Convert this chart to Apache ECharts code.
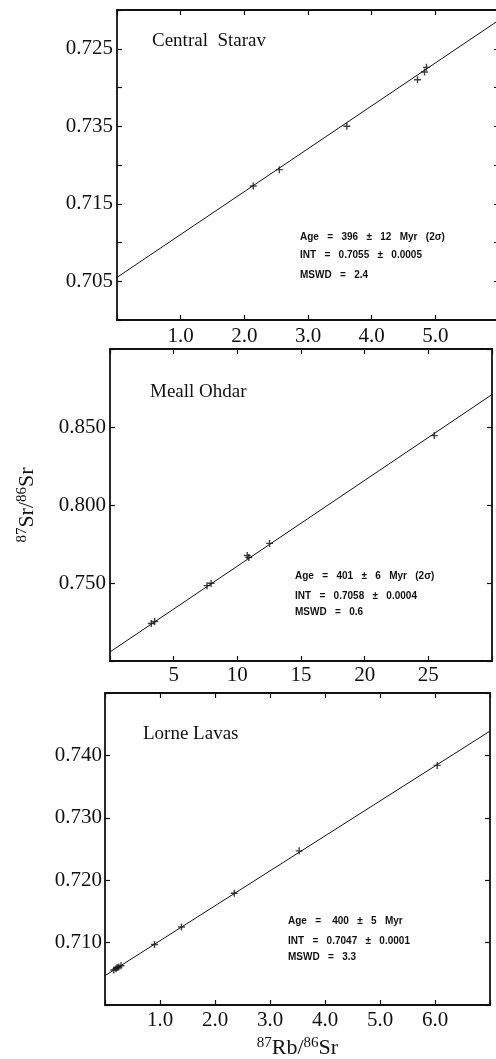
<!DOCTYPE html>
<html>
<head>
<meta charset="utf-8">
<script src="https://cdn.jsdelivr.net/npm/echarts@6/dist/echarts.min.js"></script>
<style>
  html, body { margin: 0; padding: 0; background: #fff; }
  #chart { width: 496px; height: 1059px; }
</style>
</head>
<body>
<div id="chart"></div>
<script>
// Rb-Sr isochrons: 87Sr/86Sr against 87Rb/86Sr for three suites

// Central Starav
const staravPoints = [[2.14, 0.7173], [2.55, 0.7194], [3.61, 0.7250], [4.72, 0.7310], [4.83, 0.7320], [4.86, 0.7326]];
const staravFit = [[0, 0.7055], [6, 0.7387]];
const staravXTicks = [1, 2, 3, 4, 5];
const staravXText = ['1.0', '2.0', '3.0', '4.0', '5.0'];
const staravYTicks = [0.705, 0.715, 0.725, 0.735];
const staravYText = ['0.705', '0.715', '0.735', '0.725'];
const staravNotes = ['Age   =   396   ±   12   Myr   (2σ)', 'INT   =   0.7055   ±   0.0005', 'MSWD   =   2.4'];

// Meall Ohdar
const ohdarPoints = [[3.24, 0.7240], [3.51, 0.7253], [7.62, 0.7483], [7.94, 0.7498], [10.78, 0.7676], [10.90, 0.7663], [12.53, 0.7754], [25.47, 0.8445]];
const ohdarFit = [[0, 0.7058], [30, 0.8708]];
const ohdarXTicks = [5, 10, 15, 20, 25];
const ohdarXText = ['5', '10', '15', '20', '25'];
const ohdarYTicks = [0.75, 0.80, 0.85];
const ohdarYText = ['0.750', '0.800', '0.850'];
const ohdarNotes = ['Age   =   401   ±   6   Myr   (2σ)', 'INT   =   0.7058   ±   0.0004', 'MSWD   =   0.6'];

// Lorne Lavas
const lornePoints = [[0.16, 0.7056], [0.20, 0.7058], [0.22, 0.7060], [0.25, 0.7061], [0.29, 0.7063], [0.90, 0.7097], [1.39, 0.7125], [2.35, 0.7179], [3.53, 0.7247], [6.04, 0.7384]];
const lorneFit = [[0, 0.7047], [7, 0.7439]];
const lorneXTicks = [1, 2, 3, 4, 5, 6];
const lorneXText = ['1.0', '2.0', '3.0', '4.0', '5.0', '6.0'];
const lorneYTicks = [0.71, 0.72, 0.73, 0.74];
const lorneYText = ['0.710', '0.720', '0.730', '0.740'];
const lorneNotes = ['Age   =    400   ±   5   Myr', 'INT   =   0.7047   ±   0.0001', 'MSWD   =   3.3'];

const INK = '#111';
const SERIF = '"Liberation Serif", "Times New Roman", serif';
const CROSS = 'path://M4,0H6V4H10V6H6V10H4V6H0V4H4Z';

function labelFor(ticks, texts) {
  return function (v) {
    for (let i = 0; i < ticks.length; i++) {
      if (Math.abs(v - ticks[i]) < 1e-9) return texts[i];
    }
    return '';
  };
}

const lineStyle = { color: INK, width: 1.8 };
const tickStyle = { color: INK, width: 1.2 };

function xPair(gi, min, max, interval, ticks, texts, margin) {
  return [
    {
      gridIndex: gi, type: 'value', position: 'bottom', min, max, interval,
      axisLine: { show: true, onZero: false, lineStyle },
      axisTick: { show: true, inside: true, length: 5, lineStyle: tickStyle },
      axisLabel: { formatter: labelFor(ticks, texts), margin, fontFamily: SERIF, fontSize: 21, color: INK },
      splitLine: { show: false }
    },
    {
      gridIndex: gi, type: 'value', position: 'top', min, max, interval,
      axisLine: { show: true, onZero: false, lineStyle },
      axisTick: { show: true, inside: true, length: 5, lineStyle: tickStyle },
      axisLabel: { show: false },
      splitLine: { show: false }
    }
  ];
}

function yPair(gi, min, max, interval, ticks, texts, margin) {
  return [
    {
      gridIndex: gi, type: 'value', position: 'left', min, max, interval,
      axisLine: { show: true, onZero: false, lineStyle },
      axisTick: { show: true, inside: true, length: 5, lineStyle: tickStyle },
      axisLabel: { formatter: labelFor(ticks, texts), margin, fontFamily: SERIF, fontSize: 21, color: INK },
      splitLine: { show: false }
    },
    {
      gridIndex: gi, type: 'value', position: 'right', min, max, interval,
      axisLine: { show: true, onZero: false, lineStyle },
      axisTick: { show: true, inside: true, length: 5, lineStyle: tickStyle },
      axisLabel: { show: false },
      splitLine: { show: false }
    }
  ];
}

const xAxes = [].concat(
  xPair(0, 0, 6, 1, staravXTicks, staravXText, 6),
  xPair(1, 0, 30, 5, ohdarXTicks, ohdarXText, 4),
  xPair(2, 0, 7, 1, lorneXTicks, lorneXText, 5)
);
const yAxes = [].concat(
  yPair(0, 0.700, 0.740, 0.005, staravYTicks, staravYText, 4),
  yPair(1, 0.70, 0.90, 0.05, ohdarYTicks, ohdarYText, 4),
  yPair(2, 0.70, 0.75, 0.01, lorneYTicks, lorneYText, 3)
);

const ratioRich = {
  s: { fontFamily: SERIF, fontSize: 15, color: INK, verticalAlign: 'top', lineHeight: 24 },
  r: { fontFamily: SERIF, fontSize: 22, color: INK, lineHeight: 24 }
};

// shared axis names: 87Sr/86Sr on the middle panel, 87Rb/86Sr under the bottom one
Object.assign(yAxes[2], {
  name: '{s|87}{r|Sr/}{s|86}{r|Sr}', nameLocation: 'middle', nameGap: 71, nameRotate: 90,
  nameTextStyle: { rich: ratioRich }
});
Object.assign(xAxes[4], {
  name: '{s|87}{r|Rb/}{s|86}{r|Sr}', nameLocation: 'middle', nameGap: 31,
  nameTextStyle: { rich: ratioRich }
});

function suite(ai, points, fit) {
  return [
    {
      type: 'line', xAxisIndex: ai, yAxisIndex: ai, data: fit,
      showSymbol: false, silent: true, z: 2,
      lineStyle: { color: INK, width: 1 }
    },
    {
      type: 'scatter', xAxisIndex: ai, yAxisIndex: ai, data: points,
      symbol: CROSS, symbolSize: 7, z: 3,
      itemStyle: { color: INK }
    }
  ];
}

function notes(x, tops, lines) {
  return lines.map((t, i) => ({
    type: 'text', left: x, top: tops[i],
    style: { text: t, font: 'bold 10px "Liberation Sans", Arial, sans-serif', fill: INK }
  }));
}

function title(x, top, text) {
  return { type: 'text', left: x, top, style: { text, font: '19px ' + SERIF, fill: INK } };
}

const chart = echarts.init(document.getElementById('chart'), null, { renderer: 'canvas' });
chart.setOption({
  backgroundColor: '#fff',
  animation: false,
  grid: [
    { left: 117, top: 10, width: 382, height: 310, outerBoundsMode: 'none' },
    { left: 110, top: 349, width: 382, height: 312, outerBoundsMode: 'none' },
    { left: 105, top: 693, width: 385, height: 312, outerBoundsMode: 'none' }
  ],
  xAxis: xAxes,
  yAxis: yAxes,
  series: [].concat(
    suite(0, staravPoints, staravFit),
    suite(2, ohdarPoints, ohdarFit),
    suite(4, lornePoints, lorneFit)
  ),
  graphic: [].concat(
    [title(152, 32, 'Central  Starav'), title(150, 383, 'Meall Ohdar'), title(143, 725, 'Lorne Lavas')],
    notes(300, [232, 250, 270], staravNotes),
    notes(295, [571, 591, 607], ohdarNotes),
    notes(288, [916, 936, 952], lorneNotes)
  )
});
</script>
</body>
</html>
